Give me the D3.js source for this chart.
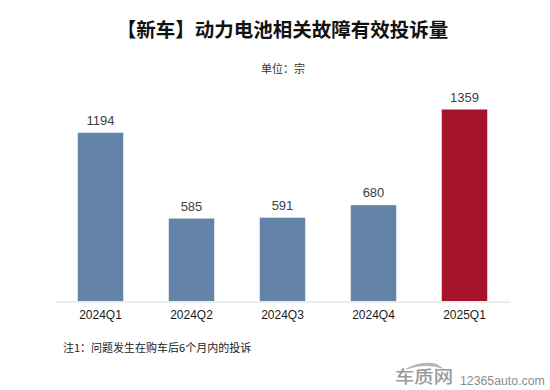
<!DOCTYPE html>
<html><head><meta charset="utf-8">
<script src="https://cdn.jsdelivr.net/npm/d3@7/dist/d3.min.js"></script>
<style>html,body{margin:0;padding:0;background:#fff}svg{display:block}</style>
</head><body><svg id="c" width="550" height="390"></svg>
<script>
const categories=["2024Q1","2024Q2","2024Q3","2024Q4","2025Q1"];
const values=[1194,585,591,680,1359];
const barColors=["#6483a8","#6483a8","#6483a8","#6483a8","#a8132c"];
const titleText="【新车】动力电池相关故障有效投诉量";
const unitText="单位：宗";
const noteText="注1：问题发生在购车后6个月内的投诉";
const cjk='"Noto Sans CJK SC","Liberation Sans",sans-serif';
const latin='"Liberation Sans",Arial,sans-serif';
const svg=d3.select("#c");
const x=d3.scaleBand().domain(categories).range([55,510]).paddingInner(0.5).paddingOuter(0.25);
const y=d3.scaleLinear().domain([0,1359]).range([301,109.5]);
svg.append("text").attr("x",282.5).attr("y",37).attr("text-anchor","middle")
 .attr("font-family",cjk).attr("font-weight",700).attr("font-size",19.5).attr("fill","#111").text(titleText);
svg.append("text").attr("x",283).attr("y",73).attr("text-anchor","middle")
 .attr("font-family",cjk).attr("font-size",11).attr("fill","#333").text(unitText);
svg.selectAll("rect.bar").data(values).join("rect").attr("class","bar")
 .attr("x",(d,i)=>x(categories[i])).attr("width",x.bandwidth())
 .attr("y",d=>y(d)).attr("height",d=>y(0)-y(d)).attr("fill",(d,i)=>barColors[i]);
svg.selectAll("text.val").data(values).join("text").attr("class","val")
 .attr("x",(d,i)=>x(categories[i])+x.bandwidth()/2).attr("y",d=>y(d)-8)
 .attr("text-anchor","middle").attr("font-family",latin).attr("font-size",13).attr("fill","#404040").text(d=>d);
const ax=svg.append("g").attr("transform","translate(0,301.5)").call(d3.axisBottom(x).tickSize(0).tickPadding(9));
ax.select(".domain").attr("stroke","#d9d9d9").attr("stroke-width",1);
ax.selectAll("text").attr("font-family",latin).attr("font-size",12).attr("fill","#1a1a1a");
svg.append("text").attr("x",63).attr("y",351.5).attr("font-family",cjk).attr("font-size",11).attr("fill","#222").text(noteText);
// watermark
svg.append("path").attr("d","M404 370 Q 420 360 437 364 L 444 369 Q 430 364 416 367 Z").attr("fill","#b5b5b5");
svg.append("text").attr("x",395).attr("y",383).attr("font-family",cjk).attr("font-weight",500).attr("font-size",17)
 .attr("fill","#9a9a9a").attr("textLength",58).attr("lengthAdjust","spacingAndGlyphs").text("车质网");
svg.append("text").attr("x",460).attr("y",385).attr("font-family",latin).attr("font-size",12.3).attr("fill","#8c8c8c").text("12365auto.com");
</script></body></html>
